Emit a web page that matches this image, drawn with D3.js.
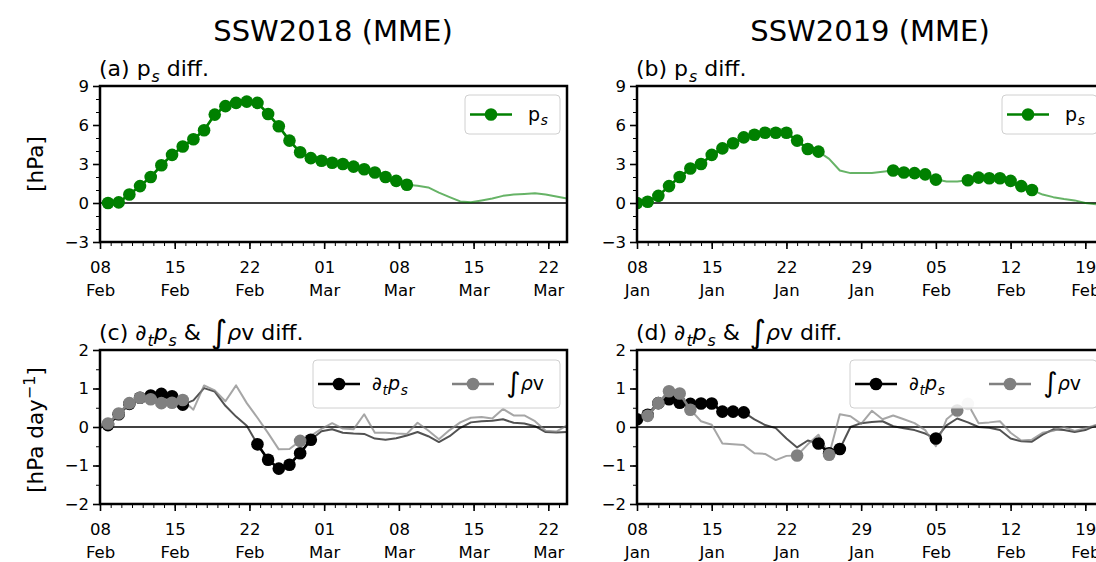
<!DOCTYPE html>
<html>
<head>
<meta charset="utf-8">
<script src="https://cdn.jsdelivr.net/npm/d3@7"></script>
<style>
  body { margin: 0; background: #fff; }
  svg { display: block; font-family: "DejaVu Sans", sans-serif; }
</style>
</head>
<body>
<div id="chart"></div>
<script>
// --- data (daily values) ---
const start2018 = new Date(Date.UTC(2018, 1, 7, 18));   // first value sits just left of 08 Feb
const start2019 = new Date(Date.UTC(2019, 0, 8));

const ps2018 = [0.0, 0.0, 0.05, 0.65, 1.3, 2.0, 2.9, 3.7, 4.35, 4.9, 5.6, 6.8, 7.45, 7.7, 7.8, 7.7,
  6.85, 5.9, 4.8, 3.9, 3.45, 3.25, 3.1, 3.0, 2.8, 2.6, 2.35, 2.0, 1.7, 1.4, 1.33, 1.2, 0.8, 0.45,
  0.12, 0.05, 0.2, 0.35, 0.55, 0.65, 0.7, 0.75, 0.65, 0.5, 0.35];
const ps2018Marked = [[1, 29]];

const ps2019 = [0.0, 0.1, 0.55, 1.3, 2.0, 2.65, 3.0, 3.7, 4.2, 4.6, 5.05, 5.25, 5.4, 5.4, 5.4, 4.8,
  4.15, 3.95, 3.4, 2.5, 2.3, 2.3, 2.3, 2.4, 2.5, 2.35, 2.3, 2.2, 1.8, 1.65, 1.65, 1.75, 1.95, 1.9,
  1.9, 1.7, 1.3, 1.0, 0.65, 0.45, 0.3, 0.2, 0.0, -0.1];
const ps2019Marked = [[0, 17], [24, 28], [31, 37]];

const dps2018 = [-0.05, 0.05, 0.33, 0.6, 0.76, 0.82, 0.86, 0.8, 0.58, 0.69, 1.01, 0.92, 0.55, 0.27,
  0.03, -0.45, -0.85, -1.08, -0.98, -0.68, -0.33, -0.11, -0.06, -0.15, -0.17, -0.18, -0.3, -0.33,
  -0.29, -0.22, -0.13, -0.24, -0.39, -0.24, -0.02, 0.12, 0.15, 0.16, 0.2, 0.11, 0.09, 0.02, -0.13,
  -0.14, -0.13];
const dps2018Marked = [[1, 8], [15, 20]];

const rhov2018 = [0.0, 0.09, 0.35, 0.62, 0.76, 0.72, 0.62, 0.63, 0.7, 0.45, 1.08, 0.95, 0.67, 1.08,
  0.62, 0.24, -0.16, -0.58, -0.57, -0.36, -0.23, -0.05, 0.1, -0.04, -0.06, 0.33, -0.15, -0.15,
  -0.17, -0.18, 0.11, -0.09, -0.32, -0.08, 0.12, 0.24, 0.26, 0.22, 0.47, 0.3, 0.3, 0.15, -0.1,
  -0.12, 0.04];
const rhov2018Marked = [[1, 8], [19, 19]];
const rhov2018Faint = [];

const dps2019 = [0.2, 0.32, 0.62, 0.72, 0.63, 0.6, 0.61, 0.61, 0.4, 0.4, 0.38, 0.2, 0.05, -0.03,
  -0.3, -0.53, -0.35, -0.43, -0.68, -0.57, 0.0, 0.1, 0.13, 0.15, 0.02, -0.03, -0.08, -0.17, -0.3,
  0.04, 0.22, 0.12, 0.0, -0.02, -0.08, -0.3, -0.37, -0.38, -0.2, -0.06, -0.08, -0.13, -0.08, 0.04];
const dps2019Marked = [[0, 10], [17, 19], [28, 28]];

const rhov2019 = [0.2, 0.29, 0.62, 0.93, 0.87, 0.45, 0.15, 0.06, -0.43, -0.45, -0.47, -0.68, -0.7,
  -0.86, -0.75, -0.74, -0.45, -0.2, -0.72, 0.33, 0.28, 0.08, 0.42, 0.2, 0.3, 0.2, 0.1, -0.08, -0.5,
  0.2, 0.43, 0.6, 0.1, 0.12, 0.15, -0.15, -0.35, -0.33, -0.15, -0.1, 0.0, -0.1, -0.03, 0.05];
const rhov2019Marked = [[1, 5], [15, 15], [18, 18], [30, 30]];
const rhov2019Faint = [31];

const tickDays2018 = ['08', '15', '22', '01', '08', '15', '22'];
const tickMonths2018 = ['Feb', 'Feb', 'Feb', 'Mar', 'Mar', 'Mar', 'Mar'];
const tickDays2019 = ['08', '15', '22', '29', '05', '12', '19'];
const tickMonths2019 = ['Jan', 'Jan', 'Jan', 'Jan', 'Feb', 'Feb', 'Feb'];
const psTicks = [-3, 0, 3, 6, 9];
const tendTicks = [-2, -1, 0, 1, 2];

// --- layout ---
const width = 1096, height = 562;
const pw = 467;
const green = '#008000';
const tickFont = 16.5;

const svg = d3.select('#chart').append('svg')
  .attr('width', width).attr('height', height);

svg.append('text').attr('x', 333).attr('y', 41).attr('text-anchor', 'middle')
  .attr('font-size', 29).text('SSW2018 (MME)');
svg.append('text').attr('x', 870).attr('y', 41).attr('text-anchor', 'middle')
  .attr('font-size', 29).text('SSW2019 (MME)');

function ylabel(cy, sup) {
  const t = svg.append('text').attr('transform', `translate(43,${cy}) rotate(-90)`)
    .attr('text-anchor', 'middle').attr('font-size', 21.5);
  if (sup) {
    t.append('tspan').text('[hPa day');
    t.append('tspan').attr('font-size', 16).attr('dy', -8).text('\u22121');
    t.append('tspan').attr('dy', 8).text(']');
  } else {
    t.text('[hPa]');
  }
}
ylabel(164, false);
ylabel(430, true);

// pieces of math-ish text: [text, style] ; style: n normal, i italic, s sub italic, b big integral
function richText(sel, parts, size) {
  let shift = 0;
  parts.forEach(([txt, st]) => {
    const ts = sel.append('tspan').text(txt);
    let target = 0;
    if (st === 'i') ts.attr('font-style', 'italic');
    if (st === 's') { ts.attr('font-style', 'italic').attr('font-size', size * 0.72).attr('dx', size * 0.04); target = size * 0.25; }
    if (st === 'b') { ts.attr('font-size', size * 1.45).attr('dx', size * 0.12); target = size * 0.12; }
    if (target !== shift) { ts.attr('dy', target - shift); shift = target; }
  });
}

let clipId = 0;
function panel(o) {
  const h = o.h;
  const g = svg.append('g').attr('transform', `translate(${o.left},${o.top})`);
  const t1 = d3.utcHour.offset(o.t0, 1050);
  const x = d3.scaleUtc().domain([o.t0, t1]).range([0, pw]);
  const y = d3.scaleLinear().domain(o.yDomain).range([h, 0]);
  const dateOf = (start, i) => d3.utcDay.offset(start, i);

  const id = 'clip' + (clipId++);
  g.append('clipPath').attr('id', id).append('rect').attr('width', pw).attr('height', h);

  // minor + major ticks on x
  g.append('g').attr('transform', `translate(0,${h})`)
    .call(d3.axisBottom(x).tickValues(d3.utcDay.range(o.t0, t1)).tickSize(4).tickFormat(''))
    .call(a => { a.select('.domain').remove(); a.selectAll('line').attr('stroke-width', 1); });
  const major = d3.range(7).map(i => d3.utcDay.offset(o.t0, 7 * i));
  g.append('g').attr('transform', `translate(0,${h})`)
    .call(d3.axisBottom(x).tickValues(major).tickSize(7).tickPadding(12).tickFormat((d, i) => o.days[i]))
    .call(a => {
      a.select('.domain').remove();
      a.selectAll('line').attr('stroke-width', 1.6);
      a.selectAll('.tick text').attr('font-size', tickFont).attr('fill', '#000')
        .attr('font-family', '"DejaVu Sans", sans-serif')
        .each(function (d, i) {
          const t = d3.select(this);
          t.text(null);
          t.append('tspan').attr('x', 0).attr('dy', '0.71em').text(o.days[i]);
          t.append('tspan').attr('x', 0).attr('dy', '1.4em').text(o.months[i]);
        });
    });

  // y ticks
  g.append('g')
    .call(d3.axisLeft(y).tickValues(d3.range(o.yDomain[0], o.yDomain[1] + 1e-9, o.minor)).tickSize(4).tickFormat(''))
    .call(a => { a.select('.domain').remove(); a.selectAll('line').attr('stroke-width', 1); });
  g.append('g')
    .call(d3.axisLeft(y).tickValues(o.yTicks).tickSize(7).tickPadding(4)
      .tickFormat(d => d < 0 ? '\u2212' + Math.abs(d) : String(d)))
    .call(a => {
      a.select('.domain').remove();
      a.selectAll('line').attr('stroke-width', 1.6);
      a.selectAll('text').attr('font-size', tickFont).attr('fill', '#000')
        .attr('font-family', '"DejaVu Sans", sans-serif');
    });

  // zero line
  g.append('line').attr('x1', 0).attr('x2', pw).attr('y1', y(0)).attr('y2', y(0))
    .attr('stroke', '#000').attr('stroke-width', 1.5);

  const plot = g.append('g').attr('clip-path', `url(#${id})`);
  o.series.forEach(s => {
    const line = d3.line().x((v, i) => x(dateOf(s.start, i))).y(v => y(v));
    plot.append('path').attr('d', line(s.values)).attr('fill', 'none')
      .attr('stroke', s.faintLine).attr('stroke-width', 2).attr('stroke-linejoin', 'round');
  });
  o.series.forEach(s => {
    s.marked.forEach(([a, b]) => {
      const seg = s.values.slice(a, b + 1);
      const line = d3.line().x((v, i) => x(dateOf(s.start, a + i))).y(v => y(v));
      if (b > a) plot.append('path').attr('d', line(seg)).attr('fill', 'none')
        .attr('stroke', s.color).attr('stroke-width', 2.6).attr('stroke-linejoin', 'round');
      plot.selectAll(null).data(d3.range(a, b + 1)).join('circle')
        .attr('cx', i => x(dateOf(s.start, i))).attr('cy', i => y(s.values[i]))
        .attr('r', 6.3).attr('fill', s.color);
    });
    (s.faint || []).forEach(i => {
      plot.append('circle').attr('cx', x(dateOf(s.start, i))).attr('cy', y(s.values[i]))
        .attr('r', 6.3).attr('fill', '#dcdcdc');
    });
  });

  // legend
  const L = o.legend;
  const lg = g.append('g').attr('transform', `translate(${L.x},${L.y})`);
  lg.append('rect').attr('width', L.w).attr('height', L.h).attr('rx', 4)
    .attr('fill', '#fff').attr('fill-opacity', 0.8).attr('stroke', '#d0d0d0');
  L.items.forEach(it => {
    lg.append('line').attr('x1', it.x).attr('x2', it.x + 42).attr('y1', L.h / 2).attr('y2', L.h / 2)
      .attr('stroke', it.color).attr('stroke-width', 2.6);
    lg.append('circle').attr('cx', it.x + 21).attr('cy', L.h / 2).attr('r', 6.3).attr('fill', it.color);
    const t = lg.append('text').attr('x', it.x + it.tx).attr('y', L.h / 2 + 6).attr('font-size', 19);
    richText(t, it.label, 19);
  });

  // spines
  g.append('rect').attr('width', pw).attr('height', h).attr('fill', 'none')
    .attr('stroke', '#000').attr('stroke-width', 2.5);

  // panel title
  const tt = g.append('text').attr('x', -1).attr('y', -10).attr('font-size', 22);
  richText(tt, o.title, 22);
}

const psLabel = [['p', 'n'], ['s', 's']];
const dpsLabel = [['\u2202', 'n'], ['t', 's'], ['p', 'i'], ['s', 's']];
const rhovLabel = [['\u222B', 'b'], ['\u03C1', 'i'], ['v', 'n']];

const psLegend = { x: pw - 102, y: 9, w: 95, h: 39,
  items: [{ x: 5, tx: 58, color: green, label: psLabel }] };
const tendLegend = (c1, c2) => ({ x: pw - 254, y: 10, w: 247, h: 48,
  items: [{ x: 5, tx: 54, color: c1, label: dpsLabel }, { x: 139, tx: 52, color: c2, label: rhovLabel }] });

const psPanel = { h: 156, yDomain: [-3, 9], yTicks: psTicks, minor: 1 };
const tendPanel = { h: 154, yDomain: [-2, 2], yTicks: tendTicks, minor: 0.5 };
const tendTitle = l => [['(' + l + ') \u2202', 'n'], ['t', 's'], ['p', 'i'], ['s', 's'], [' & ', 'n'],
  ['\u222B', 'b'], ['\u03C1', 'i'], ['v diff.', 'n']];

panel(Object.assign({}, psPanel, {
  left: 100, top: 86, t0: new Date(Date.UTC(2018, 1, 8)), days: tickDays2018, months: tickMonths2018,
  title: [['(a) p', 'n'], ['s', 's'], [' diff.', 'n']],
  series: [{ start: start2018, values: ps2018, marked: ps2018Marked, color: green, faintLine: 'rgba(0,128,0,0.6)' }],
  legend: psLegend
}));
panel(Object.assign({}, psPanel, {
  left: 637, top: 86, t0: start2019, days: tickDays2019, months: tickMonths2019,
  title: [['(b) p', 'n'], ['s', 's'], [' diff.', 'n']],
  series: [{ start: start2019, values: ps2019, marked: ps2019Marked, color: green, faintLine: 'rgba(0,128,0,0.6)' }],
  legend: psLegend
}));
panel(Object.assign({}, tendPanel, {
  left: 100, top: 350, t0: new Date(Date.UTC(2018, 1, 8)), days: tickDays2018, months: tickMonths2018,
  title: tendTitle('c'),
  series: [
    { start: start2018, values: dps2018, marked: dps2018Marked, color: '#000', faintLine: 'rgba(0,0,0,0.68)' },
    { start: start2018, values: rhov2018, marked: rhov2018Marked, faint: rhov2018Faint, color: '#808080', faintLine: 'rgba(128,128,128,0.7)' }
  ],
  legend: tendLegend('#000', '#808080')
}));
panel(Object.assign({}, tendPanel, {
  left: 637, top: 350, t0: start2019, days: tickDays2019, months: tickMonths2019,
  title: tendTitle('d'),
  series: [
    { start: start2019, values: dps2019, marked: dps2019Marked, color: '#000', faintLine: 'rgba(0,0,0,0.68)' },
    { start: start2019, values: rhov2019, marked: rhov2019Marked, faint: rhov2019Faint, color: '#808080', faintLine: 'rgba(128,128,128,0.7)' }
  ],
  legend: tendLegend('#000', '#808080')
}));
</script>
</body>
</html>
